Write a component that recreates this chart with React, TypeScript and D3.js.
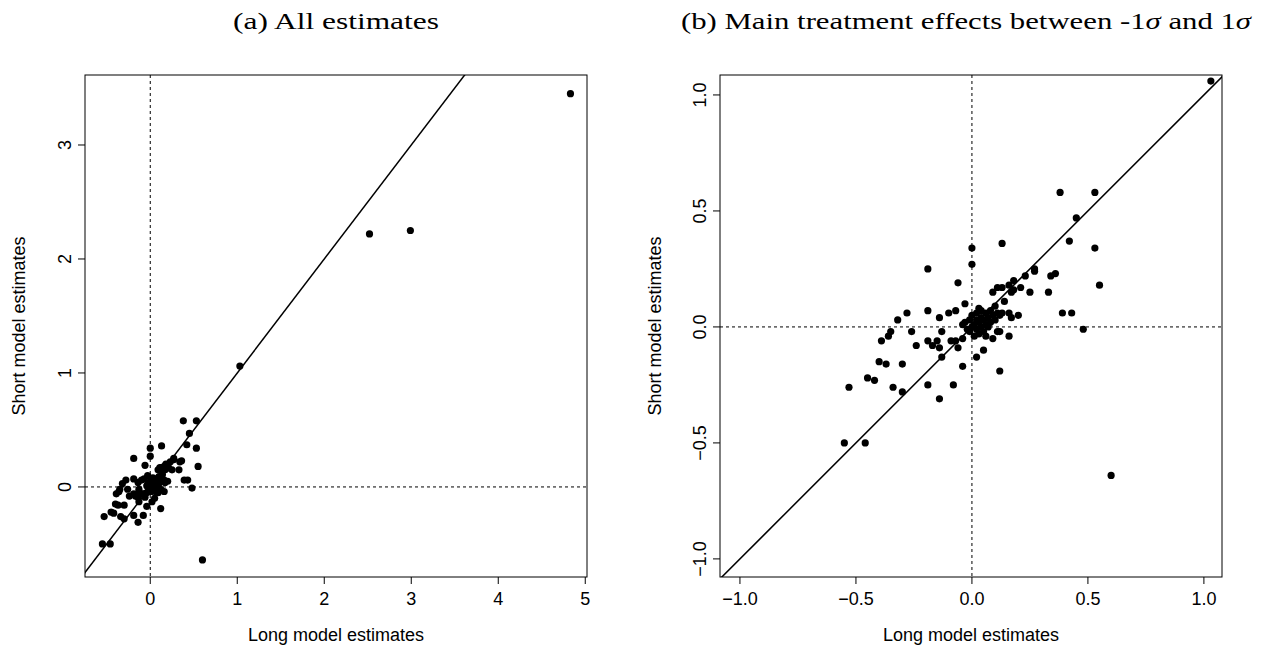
import React from "react";
import * as d3 from "d3";

const longEst: number[] = [
  1.03, 0.38, 0.53, 0.45, 0.13, 0.0, 0.0, -0.19, -0.06, 0.42, 0.53, 0.27, 0.27, 0.23, 0.34, 0.36, 0.55, 0.18, 0.16, 0.21,
  0.18, 0.25, 0.33, 0.13, 0.11, 0.09, 0.17, 0.14, 0.13, 0.16, 0.2, 0.17, 0.39, 0.43, 0.48, 0.16, 0.12, -0.03, -0.28, -0.32,
  -0.19, -0.14, -0.1, -0.07, -0.35, -0.36, -0.39, -0.26, -0.24, -0.19, -0.17, -0.15, -0.14, -0.13, -0.09, -0.07, -0.06, -0.04, -0.13, -0.4,
  -0.37, -0.3, -0.04, 0.02, 0.05, 0.09, 0.11, 0.12, -0.45, -0.42, -0.53, -0.55, -0.46, -0.34, -0.3, -0.19, -0.08, -0.14, 0.6,
  0.0, 0.01, 0.02, 0.03, 0.04, 0.05, 0.06, 0.07, 0.08, 0.09, -0.01, 0.0, 0.02, 0.04, 0.06, 0.03, 0.05, 0.01, -0.02, -0.03,
  0.07, 0.1, 0.11, 0.02, 0.04, -0.01, 0.06, 0.08, 0.1, 0.03, -0.04, 0.12,
  2.52, 2.99, 4.83,
];
const shortEst: number[] = [
  1.06, 0.58, 0.58, 0.47, 0.36, 0.34, 0.27, 0.25, 0.19, 0.37, 0.34, 0.25, 0.24, 0.22, 0.22, 0.23, 0.18, 0.2, 0.18, 0.17,
  0.16, 0.15, 0.15, 0.17, 0.17, 0.15, 0.15, 0.11, 0.06, 0.06, 0.05, 0.04, 0.06, 0.06, -0.01, -0.04, -0.02, 0.1, 0.06, 0.03,
  0.07, 0.04, 0.06, 0.07, -0.02, -0.04, -0.06, -0.02, -0.08, -0.06, -0.08, -0.06, -0.09, -0.02, -0.06, -0.06, -0.09, -0.05, -0.13, -0.15,
  -0.16, -0.16, -0.17, -0.13, -0.1, -0.05, -0.02, -0.19, -0.22, -0.23, -0.26, -0.5, -0.5, -0.26, -0.28, -0.25, -0.25, -0.31, -0.64,
  0.0, 0.01, -0.01, 0.02, 0.0, 0.03, 0.01, 0.04, 0.02, 0.05, 0.03, 0.05, 0.06, 0.07, 0.06, -0.03, -0.02, -0.04, -0.01, 0.02,
  0.0, 0.03, 0.06, 0.03, 0.04, -0.02, -0.04, 0.07, 0.09, 0.08, 0.01, 0.05,
  2.22, 2.25, 3.45,
];

const ticksA_x = [0, 1, 2, 3, 4, 5];
const ticksA_y = [0, 1, 2, 3];
const ticksB = [-1, -0.5, 0, 0.5, 1];

const points = longEst.map((x, i) => ({ x, y: shortEst[i] }));

const axisFont = "'Liberation Sans', Arial, sans-serif";

function Panel(props: {
  left: number; title: string | React.ReactNode; xDom: [number, number]; yDom: [number, number]; titleW: number;
  xt: number[]; yt: number[]; fmt: (v: number) => string; data: { x: number; y: number }[]; id: string; yTitleX: number; titleX: number;
}) {
  const top = 75, bottom = 577, L = props.left, R = props.left + 502;
  const x = d3.scaleLinear().domain(props.xDom).range([L, R]);
  const y = d3.scaleLinear().domain(props.yDom).range([bottom, top]);
  const fs = 18;
  return (
    <g>
      <defs>
        <clipPath id={props.id}><rect x={L} y={top} width={R - L} height={bottom - top} /></clipPath>
      </defs>
      <text x={props.titleX} y={29} textAnchor="middle" fontFamily="'Liberation Serif', serif" fontSize={24}
        textLength={props.titleW} lengthAdjust="spacingAndGlyphs">{props.title}</text>
      <g clipPath={`url(#${props.id})`}>
        <line x1={x(0)} x2={x(0)} y1={top} y2={bottom} stroke="#000" strokeDasharray="3,3" strokeWidth={1} />
        <line x1={L} x2={R} y1={y(0)} y2={y(0)} stroke="#000" strokeDasharray="3,3" strokeWidth={1} />
        <line x1={x(-2)} y1={y(-2)} x2={x(6)} y2={y(6)} stroke="#000" strokeWidth={1.5} />
        {props.data.map((p, i) => (
          <circle key={i} cx={x(p.x)} cy={y(p.y)} r={3.6} fill="#000" />
        ))}
      </g>
      <rect x={L} y={top} width={R - L} height={bottom - top} fill="none" stroke="#000" strokeWidth={1} />
      {props.xt.map((t) => (
        <g key={"x" + t}>
          <line x1={x(t)} x2={x(t)} y1={bottom} y2={bottom + 7} stroke="#000" />
          <text x={x(t)} y={bottom + 28} textAnchor="middle" fontFamily={axisFont} fontSize={fs}>{props.fmt(t)}</text>
        </g>
      ))}
      {props.yt.map((t) => (
        <g key={"y" + t}>
          <line x1={L - 7} x2={L} y1={y(t)} y2={y(t)} stroke="#000" />
          <text transform={`translate(${L - 14},${y(t)}) rotate(-90)`} textAnchor="middle" fontFamily={axisFont} fontSize={fs}>{props.fmt(t)}</text>
        </g>
      ))}
      <text x={(L + R) / 2} y={641} textAnchor="middle" fontFamily={axisFont} fontSize={fs}>Long model estimates</text>
      <text transform={`translate(${props.yTitleX},${(top + bottom) / 2}) rotate(-90)`} textAnchor="middle" fontFamily={axisFont} fontSize={fs}>Short model estimates</text>
    </g>
  );
}

export default function App() {
  const fmtA = (v: number) => d3.format("d")(v);
  const fmtB = (v: number) => d3.format(".1f")(v).replace("-", "\u2212");
  const dataB = points.filter((p) => Math.abs(p.x) <= 1.1);
  return (
    <svg width={1266} height={653} style={{ position: "absolute", left: 0, top: 0, display: "block" }}>
      <Panel left={85} id="ca" title="(a) All estimates" titleX={336} titleW={206} xDom={[-0.75, 5.02]} yDom={[-0.79, 3.614]}
        xt={ticksA_x} yt={ticksA_y} fmt={fmtA} data={points} yTitleX={25} />
      <Panel left={720} id="cb" titleX={966} titleW={570} title={<>(b) Main treatment effects between -1<tspan fontStyle="italic">σ</tspan> and 1<tspan fontStyle="italic">σ</tspan></>}
        xDom={[-1.086, 1.078]} yDom={[-1.078, 1.086]} xt={ticksB} yt={ticksB} fmt={fmtB} data={dataB} yTitleX={661} />
    </svg>
  );
}
